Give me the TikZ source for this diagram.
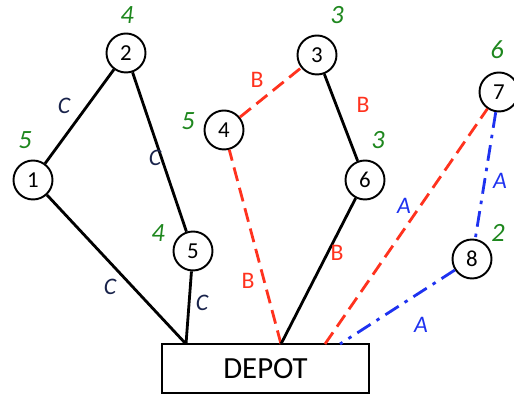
\documentclass[tikz,border=0pt]{standalone}
\usepackage{fontspec}
\setmainfont{Carlito}
\usetikzlibrary{calc}

\definecolor{routeA}{RGB}{30,50,240}
\definecolor{routeB}{RGB}{255,50,30}
\definecolor{routeC}{RGB}{25,35,75}
\definecolor{demand}{RGB}{30,135,30}

\tikzset{
    customer/.style={draw, circle, line width=1.1pt, minimum size=39*0.02cm, inner sep=0pt, font=\fontsize{13}{14}\selectfont},
    legC/.style={black, line width=1.6pt},
    legB/.style={routeB, line width=1.6pt, dash pattern=on 8pt off 4pt},
    legA/.style={routeA, line width=1.6pt, dash pattern=on 9pt off 4pt on 2pt off 4pt},
    lbl/.style={font=\fontsize{13.5}{14}\selectfont\itshape},
    wt/.style={demand, font=\fontsize{15}{16}\selectfont\itshape}
}

\begin{document}
\begin{tikzpicture}[x=0.02cm, y=-0.02cm]
    \useasboundingbox (0,0) rectangle (514,401);

    % depot and customers
    \node [draw, line width=1.6pt, minimum width=207*0.02cm, minimum height=49*0.02cm,
           font=\fontsize{17.5}{18}\selectfont] (depot) at (265.5,368.5) {DEPOT};
    \node [customer] (n1) at (33,180) {1};
    \node [customer] (n2) at (126,53) {2};
    \node [customer] (n3) at (317,55) {3};
    \node [customer] (n4) at (224,130) {4};
    \node [customer] (n5) at (193,251) {5};
    \node [customer] (n6) at (365,180) {6};
    \node [customer] (n7) at (499,92) {7};
    \node [customer] (n8) at (472,259) {8};

    % where the routes leave the depot
    \coordinate (dC) at (186,344);
    \coordinate (dB) at (281,344);
    \coordinate (dA1) at (325,344);
    \coordinate (dA2) at (340,344);

    % route C
    \draw [legC] (dC) -- (n1) -- (n2) -- (n5) -- (dC);
    % route B
    \draw [legB] (dB) -- (n4) -- (n3);
    \draw [legC] (n3) -- (n6) -- (dB);
    % route A
    \draw [legB] (dA1) -- (n7);
    \draw [legA] (n7) -- (n8) -- (dA2);

    % leg labels
    \node [lbl, routeC] (c12) at (64,106) {C};
    \node [lbl, routeC] (c25) at (155,158) {C};
    \node [lbl, routeC] (c1d) at (110,287) {C};
    \node [lbl, routeC] (c5d) at (202,303) {C};
    \node [routeB, font=\fontsize{13.5}{14}\selectfont] (b43) at (257,80) {B};
    \node [routeB, font=\fontsize{13.5}{14}\selectfont] (b36) at (363,105) {B};
    \node [routeB, font=\fontsize{13.5}{14}\selectfont] (b4d) at (248,281) {B};
    \node [routeB, font=\fontsize{13.5}{14}\selectfont] (b6d) at (337,253) {B};
    \node [lbl, routeA] (a7d) at (404,206) {A};
    \node [lbl, routeA] (a78) at (500,181) {A};
    \node [lbl, routeA] (a8d) at (421,325) {A};

    % demands
    \node [wt] (w2) at (127,15) {4};
    \node [wt] (w1) at (25,140) {5};
    \node [wt] (w4) at (188,121) {5};
    \node [wt] (w5) at (158,233) {4};
    \node [wt] (w3) at (337,15) {3};
    \node [wt] (w6) at (378,140) {3};
    \node [wt] (w7) at (497,50) {6};
    \node [wt] (w8) at (498,233) {2};
\end{tikzpicture}
\end{document}
